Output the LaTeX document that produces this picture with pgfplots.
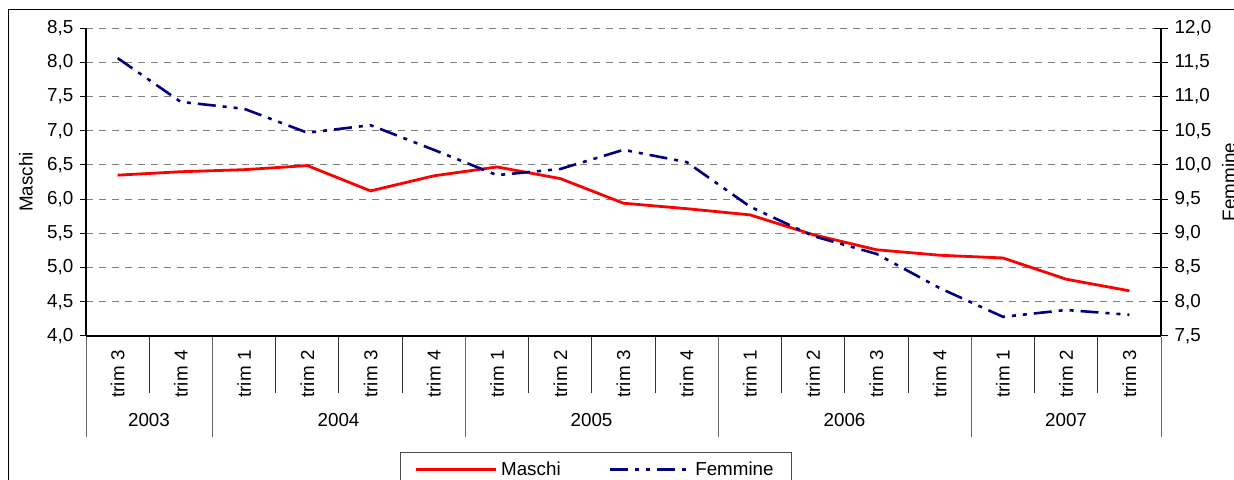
\documentclass[border=0pt]{standalone}
\usepackage{pgfplots}
\pgfplotsset{compat=1.18}
\usepackage{fontspec}
\setmainfont{Liberation Sans}
\definecolor{navy}{RGB}{0,0,128}
\usepackage{pgfplotstable}
\pgfplotstableread{
x m f
0.5 6.35 11.56
1.5 6.40 10.92
2.5 6.43 10.82
3.5 6.49 10.47
4.5 6.12 10.58
5.5 6.34 10.22
6.5 6.47 9.85
7.5 6.30 9.94
8.5 5.94 10.22
9.5 5.86 10.04
10.5 5.77 9.39
11.5 5.48 8.96
12.5 5.26 8.70
13.5 5.18 8.20
14.5 5.14 7.78
15.5 4.83 7.88
16.5 4.66 7.81
}\datatable
\newcommand{\chfont}{\fontsize{9.4}{11}\selectfont}
\begin{document}
\chfont
\begin{tikzpicture}[font=\chfont]
\useasboundingbox (0,0) rectangle (617pt,240pt);
\clip (0,0) rectangle (617pt,240pt);
\draw[line width=0.5pt] (4pt,235pt) rectangle (650pt,-20pt);
\begin{axis}[
 at={(43pt,72pt)}, anchor=south west, scale only axis, width=537.5pt, height=154pt,
 xmin=0, xmax=17, ymin=4, ymax=8.5,
 xtick=\empty,
 ytick={4,4.5,5,5.5,6,6.5,7,7.5,8,8.5},
 axis y line*=left, axis x line*=bottom,
 axis line style={-, line width=1pt},
 tick align=outside, major tick length=3pt, tick style={black, line width=0.5pt},
 ymajorgrids, grid style={gray, line width=0.5pt, dash pattern=on 3.5pt off 3pt},
 yticklabel style={/pgf/number format/.cd, fixed, fixed zerofill, precision=1, use comma, assume math mode=true},
 ticklabel style={font=\chfont},
 clip=false,
]
\addplot[red, line width=1.4pt] table[x=x, y=m] {\datatable};
\end{axis}
\begin{axis}[
 at={(43pt,72pt)}, anchor=south west, scale only axis, width=537.5pt, height=154pt,
 xmin=0, xmax=17, ymin=7.5, ymax=12,
 xtick=\empty,
 ytick={7.5,8,8.5,9,9.5,10,10.5,11,11.5,12},
 axis y line*=right, axis x line=none,
 axis line style={-, line width=1pt},
 tick align=center, major tick length=7pt, tick style={black, line width=0.5pt},
 yticklabel style={/pgf/number format/.cd, fixed, fixed zerofill, precision=1, use comma, assume math mode=true},
 ticklabel style={font=\chfont},
 clip=false,
 legend columns=2,
 legend style={at={(axis description cs:0.4744,-0.3766)}, anchor=north, draw=black!70, line width=0.5pt,
   font=\chfont, inner xsep=7pt, inner ysep=2.5pt,
   /tikz/every even column/.append style={column sep=22pt}},
 legend image code/.code={\draw[#1] (0pt,0pt) -- (40pt,0pt);},
]
\addlegendimage{red, line width=1.4pt}
\addlegendentry{Maschi}
\addplot[navy, line width=1.3pt, dash pattern=on 9pt off 3.5pt on 2pt off 3.5pt on 2pt off 3.5pt] table[x=x, y=f] {\datatable};
\addlegendentry{Femmine}
\end{axis}
\begin{scope}[x=0.5pt, y=-0.5pt, shift={(0pt,240pt)}]
\foreach \i/\t in {0/trim 3,1/trim 4,2/trim 1,3/trim 2,4/trim 3,5/trim 4,6/trim 1,7/trim 2,8/trim 3,9/trim 4,10/trim 1,11/trim 2,12/trim 3,13/trim 4,14/trim 1,15/trim 2,16/trim 3}
  \node[rotate=90] at ({86+63.235*(\i+0.5)},374) {\t};
\foreach \k in {1,3,4,5,7,8,9,11,12,13,15,16}
  \draw[line width=0.5pt, black!80] ({86+63.235*\k},337) -- ({86+63.235*\k},393);
\foreach \k in {0,2,6,10,14,17}
  \draw[line width=0.5pt, black!60] ({86+63.235*\k},337) -- ({86+63.235*\k},437);
\node at (149,420) {2003};
\node at (338.5,420) {2004};
\node at (591.5,420) {2005};
\node at (844.5,420) {2006};
\node at (1066,420) {2007};
\node[rotate=90] at (26,182) {Maschi};
\node[rotate=90] at (1229,182) {Femmine};
\end{scope}
\end{tikzpicture}
\end{document}
